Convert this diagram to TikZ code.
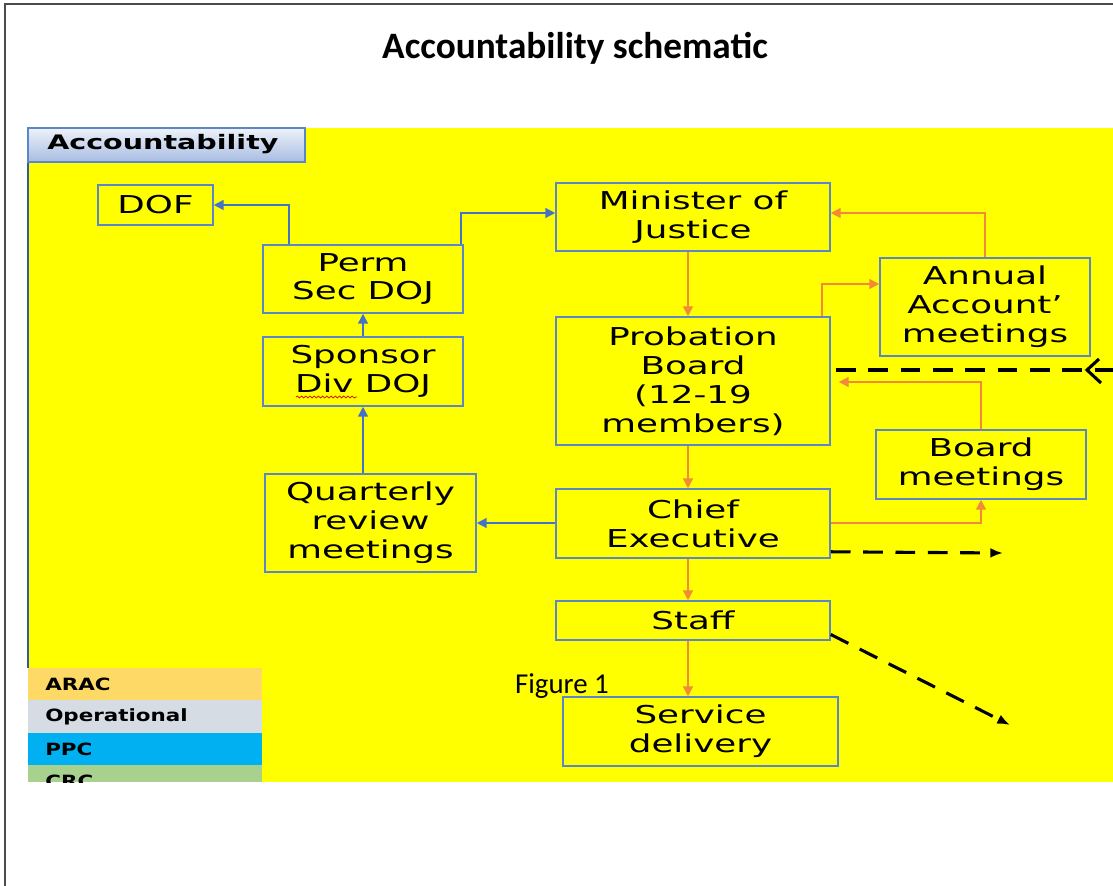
\documentclass[tikz,border=0pt]{standalone}
\usepackage{fontspec}
\usetikzlibrary{arrows.meta,calc,decorations.pathmorphing}
\setmainfont{DejaVu Sans}
\newfontfamily\boxfont[FakeStretch=1.45]{DejaVu Sans}
\newfontfamily\tabfont[FakeStretch=1.43]{DejaVu Sans}
\newfontfamily\keyfont[FakeStretch=1.27]{DejaVu Sans}
\newfontfamily\titlefont{Carlito}

\definecolor{boxblue}{HTML}{5B87C8}
\definecolor{linkblue}{HTML}{4472C4}
\definecolor{linkorange}{HTML}{F28A3A}
\definecolor{paper}{HTML}{FFFF00}
\definecolor{arac}{HTML}{FFD966}
\definecolor{oper}{HTML}{D6DCE4}
\definecolor{ppc}{HTML}{00B0F0}
\definecolor{crc}{HTML}{A9D18E}
\definecolor{tabtop}{HTML}{EEF2FA}
\definecolor{tabbot}{HTML}{A7BCE2}

\tikzset{
  box/.style={draw=boxblue, line width=1.1pt, align=center, inner sep=0pt,
    font=\boxfont\fontsize{17.5}{20.6}\selectfont},
  bluelink/.style={draw=linkblue, line width=1.1pt, -{Triangle[length=7pt,width=7pt]}},
  orangelink/.style={draw=linkorange, line width=1.1pt, -{Triangle[length=7pt,width=7pt]}},
  dashlink/.style={draw=black, line width=2.2pt, dash pattern=on 14pt off 9pt},
  keyrow/.style={anchor=west, inner sep=0pt, font=\keyfont\bfseries\fontsize{12}{14}\selectfont}
}

\begin{document}
\begin{tikzpicture}[x=0.025cm, y=-0.025cm]
\useasboundingbox (0,0) rectangle (1113,886);
\fill[white] (0,0) rectangle (1113,886);

% page frame
\draw[black!70, line width=1pt] (5,886) -- (5,4) -- (1113,4);
\node[font=\titlefont\bfseries\fontsize{26.5}{30}\selectfont] (title) at (575,48) {Accountability schematic};

% yellow panel and its tab
\fill[paper] (28,128) rectangle (1113,782);
\draw[linkblue!80!black, line width=0.8pt] (28,162) -- (28,668);
\shade[top color=tabtop, bottom color=tabbot] (28,128) rectangle (305,162);
\draw[boxblue, line width=1pt] (28,162) -- (28,128) -- (305,128) -- (305,162) -- cycle;
\node[anchor=west, inner sep=0pt, font=\tabfont\bfseries\fontsize{14.2}{16}\selectfont] (tab) at (47,144) {Accountability};

% left column
\node[box, minimum width=2.875cm, minimum height=1cm] (dof) at (155.5,205) {DOF};
\node[box, minimum width=5cm, minimum height=1.7cm] (perm) at (363,279) {Perm\\Sec DOJ};
\node[box, minimum width=5cm, minimum height=1.725cm] (sponsor) at (363,371.5) {Sponsor\\Div DOJ};
\node[box, minimum width=5.275cm, minimum height=2.45cm] (quart) at (370.5,523) {Quarterly\\review\\meetings};
\draw[red!85!black, line width=0.5pt, decorate, decoration={snake, amplitude=0.7pt, segment length=3pt}] (296,397) -- (357,397);

% middle column
\node[box, minimum width=6.85cm, minimum height=1.7cm] (minister) at (693,217) {Minister of\\Justice};
\node[box, minimum width=6.85cm, minimum height=3.2cm] (board) at (693,381) {Probation\\Board\\(12-19\\members)};
\node[box, minimum width=6.85cm, minimum height=1.725cm] (chief) at (693,523.5) {Chief\\Executive};
\node[box, minimum width=6.85cm, minimum height=0.975cm] (staff) at (693,620.5) {Staff};
\node[box, minimum width=6.875cm, minimum height=1.725cm] (service) at (700.5,731.5) {Service\\delivery};

% right column
\node[box, minimum width=5.25cm, minimum height=2.45cm] (annual) at (985,307) {Annual\\Account’\\meetings};
\node[box, minimum width=5.25cm, minimum height=1.725cm] (bmeet) at (981,464.5) {Board\\meetings};

\node[font=\titlefont\fontsize{20.5}{24}\selectfont] (fig) at (562,686) {Figure 1};

% reporting lines
\draw[bluelink] ($(perm.north west)+(27,0)$) |- (dof.east);
\draw[bluelink] ($(perm.north east)+(-3,0)$) |- ($(minister.west)+(0,-4)$);
\draw[bluelink] (sponsor.north) -- (perm.south);
\draw[bluelink] (quart.north -| sponsor.south) -- (sponsor.south);
\draw[bluelink] ($(chief.west)+(0,-0.5)$) -- ($(chief.west -| quart.east)+(0,-0.5)$);

\draw[orangelink] ($(minister.south)+(-5,0)$) -- ($(board.north)+(-5,0)$);
\draw[orangelink] ($(board.south)+(-5,0)$) -- ($(chief.north)+(-5,0)$);
\draw[orangelink] ($(chief.south)+(-5,0)$) -- ($(staff.north)+(-5,0)$);
\draw[orangelink] ($(staff.south)+(-5,0)$) -- ($(service.north -| staff.south)+(-5,0)$);
\draw[orangelink] ($(board.north east)+(-9,0)$) |- ($(annual.west)+(0,-23)$);
\draw[orangelink] (annual.north) |- ($(minister.east)+(0,-4)$);
\draw[orangelink] (bmeet.north) |- ($(board.east)+(8,1)$);
\draw[orangelink] ($(chief.east)+(0,-0.5)$) -| (bmeet.south);

% dashed links running off the panel
\draw[dashlink] ($(board.east)+(5,-11)$) -- (1113,370);
\draw[line width=2.2pt] (1099,359) -- (1087,370) -- (1101,383);
\draw[dashlink, -{Latex[length=9pt,width=7pt]}] ($(chief.south east)+(0,-7)$) -- (1003,553);
\draw[dashlink, -{Latex[length=9pt,width=7pt]}] ($(staff.east)+(0,14)$) -- (1010,725);

% key
\fill[arac] (28,668) rectangle (262,700);
\fill[oper] (28,700) rectangle (262,733);
\fill[ppc] (28,733) rectangle (262,765);
\fill[crc] (28,765) rectangle (262,782);
\node[keyrow] (kArac) at (45,684) {ARAC};
\node[keyrow] (kOper) at (45,716.5) {Operational};
\node[keyrow] (kPpc) at (45,749) {PPC};
\begin{scope}
\clip (28,765) rectangle (262,782);
\node[keyrow] (kCrc) at (45,781) {CRC};
\end{scope}
\end{tikzpicture}
\end{document}
